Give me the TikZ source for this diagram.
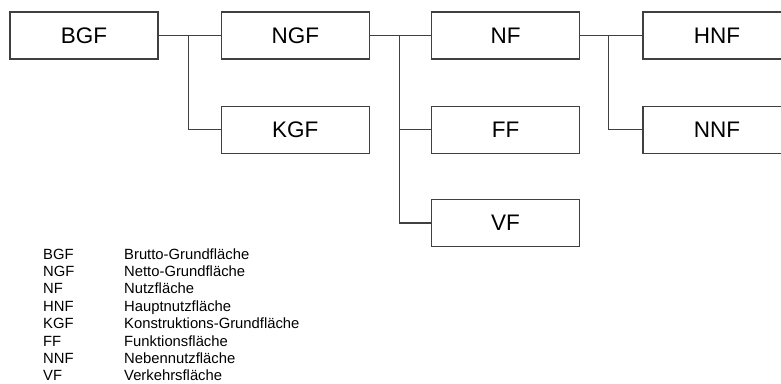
\documentclass[tikz,border=0pt]{standalone}
\usepackage{fontspec}
\setmainfont{Liberation Sans}
\usepackage{tikz}
\usetikzlibrary{positioning,calc}
\usepackage{xcolor}
\definecolor{framegray}{HTML}{404040}

\begin{document}
\begin{tikzpicture}[
box/.style={rectangle,draw=framegray,line width=1.3pt,align=center,minimum width=148pt,minimum height=47pt,inner sep=0pt,font=\fontsize{22.5}{26}\selectfont},
link/.style={draw=framegray,line width=1.3pt},
abbr/.style={anchor=base west,inner sep=0pt,font=\fontsize{14.8}{17}\selectfont},
expl/.style={anchor=base west,inner sep=0pt,font=\fontsize{14.8}{17}\selectfont}
]
\useasboundingbox (0pt,0pt) rectangle (781pt,-383pt);
\clip (0pt,0pt) rectangle (781pt,-383pt);
\node[box] (bgf) at (84pt,-35.5pt) {BGF};
\node[box,right=62pt of bgf] (ngf) {NGF};
\node[box,below=46pt of ngf] (kgf) {KGF};
\node[box,right=61pt of ngf] (nf) {NF};
\node[box,below=46pt of nf] (ff) {FF};
\node[box,below=45pt of ff] (vf) {VF};
\node[box,right=62pt of nf] (hnf) {HNF};
\node[box,below=46pt of hnf] (nnf) {NNF};
% junctions
\coordinate (j1) at ($(bgf.east)!0.48!(ngf.west)$);
\coordinate (j2) at ($(ngf.east)!0.49!(nf.west)$);
\coordinate (j3) at ($(nf.east)!0.45!(hnf.west)$);
\draw[link] (bgf)--(ngf);
\draw[link] (j1) |- (kgf);
\draw[link] (ngf)--(nf);
\draw[link] (j2) |- (ff);
\draw[link] (j2) |- (vf);
\draw[link] (nf)--(hnf);
\draw[link] (j3) |- (nnf);
% legend
\foreach \ab/\txt [count=\i] in {BGF/Brutto-Grundfläche,NGF/Netto-Grundfläche,NF/Nutzfläche,HNF/Hauptnutzfläche,KGF/Konstruktions-Grundfläche,FF/Funktionsfläche,NNF/Nebennutzfläche,VF/Verkehrsfläche}{
  \node[abbr] (ab\i) at (43pt,{-259pt-17.4pt*(\i-1)}) {\ab};
  \node[expl] (ex\i) at (124pt,{-259pt-17.4pt*(\i-1)}) {\txt};
}
\end{tikzpicture}
\end{document}
